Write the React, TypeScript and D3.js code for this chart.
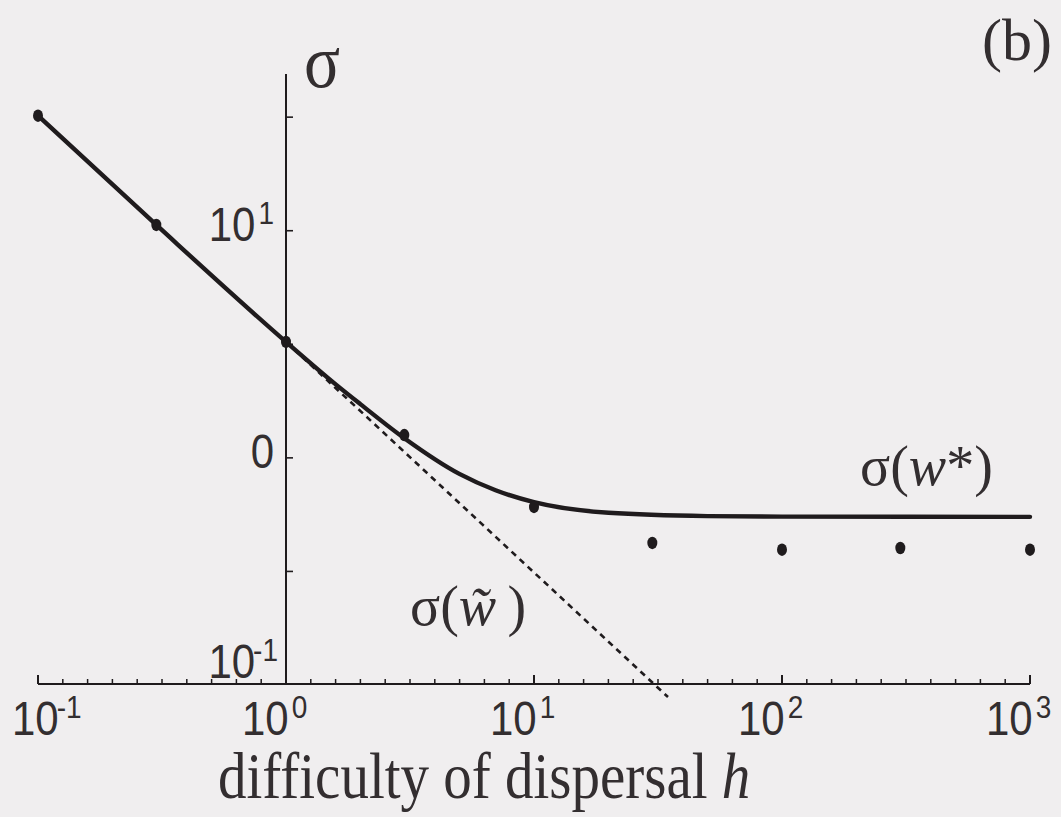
import React from "react";
import * as d3 from "d3";

const W = 1061;
const H = 817;

// Simulated dispersal widths (dots)
const hPoints = [0.1, 0.3, 1, 3, 10, 30, 100, 300, 1000];
const sigmaPoints = [32.1, 10.6, 3.24, 1.26, 0.608, 0.422, 0.394, 0.401, 0.394];

// σ(w*) curve samples
const hCurve = [0.1, 0.3, 1, 1.6, 2, 3, 5, 7, 10, 20, 50, 100, 1000];
const sigmaCurve = [32.1, 10.6, 3.24, 2.09, 1.72, 1.22, 0.85, 0.72, 0.638, 0.573, 0.554, 0.551, 0.55];

// σ(w̃) asymptote (dashed)
const hTilde = [1, 34.7];
const sigmaTilde = [3.24, 0.0885];

// Axis ticks
const xMajorTicks = [0.1, 1, 10, 100, 1000];
const xTickExponents = ["-1", "0", "1", "2", "3"];
const yTicks = [Math.pow(10, -0.5), 1, Math.pow(10, 0.5), 10, Math.pow(10, 1.5)];
const yLabelValues = [10, 1, 0.1];
const yLabelBase = ["10", "0", "10"];
const yLabelExp = ["1", "", "-1"];

const INK = "#1f1b1d";
const TEXT = "#332e30";
const SANS = "'Liberation Sans', Arial, Helvetica, sans-serif";
const SERIF = "'Liberation Serif', 'Times New Roman', serif";
const STRETCH = 1.14;

export default function App() {
  const x = d3.scaleLog().domain([0.1, 1000]).range([38, 1030]);
  const y = d3.scaleLog().domain([0.1, Math.pow(10, 1.69)]).range([685, 74]);

  const axisY = 684;
  const axisX = x(1);

  const minorX: number[] = [];
  for (let k = -10; k <= 30; k++) {
    if (k % 10 !== 0) minorX.push(Math.pow(10, k / 10));
  }

  const curveLine = d3
    .line<number>()
    .x((_, i) => x(hCurve[i]))
    .y((d) => y(d))
    .curve(d3.curveMonotoneX);

  const dashLine = d3
    .line<number>()
    .x((_, i) => x(hTilde[i]))
    .y((d) => y(d));

  const tr = (px: number, py: number, s = STRETCH) => `translate(${px},${py}) scale(1,${s})`;

  return (
    <svg
      width={W}
      height={H}
      viewBox={`0 0 ${W} ${H}`}
      style={{ position: "absolute", left: 0, top: 0, display: "block" }}
    >
      <rect x={0} y={0} width={W} height={H} fill="#f0eeef" />

      {/* x axis */}
      <line x1={x(0.1)} x2={x(1000)} y1={axisY} y2={axisY} stroke={INK} strokeWidth={2} />
      {minorX.map((v, i) => (
        <line key={`mx${i}`} x1={x(v)} x2={x(v)} y1={axisY} y2={axisY - 5} stroke={INK} strokeWidth={1.5} />
      ))}
      {xMajorTicks.map((v, i) => (
        <line key={`Mx${i}`} x1={x(v)} x2={x(v)} y1={axisY} y2={axisY - 9} stroke={INK} strokeWidth={2} />
      ))}
      {xMajorTicks.map((v, i) => (
        <text
          key={`xl${i}`}
          transform={tr(Math.max(12, x(v) - 44), 735)}
          fontFamily={SANS}
          fontSize={42}
          fill={TEXT}
        >
          10
          <tspan fontSize={28} dx={xTickExponents[i] === "-1" ? -2 : 3} dy={-15}>
            {xTickExponents[i]}
          </tspan>
        </text>
      ))}

      {/* y axis */}
      <line x1={axisX} x2={axisX} y1={axisY} y2={y(Math.pow(10, 1.69))} stroke={INK} strokeWidth={2} />
      {yTicks.map((v, i) => (
        <line key={`yt${i}`} x1={axisX} x2={axisX + 7} y1={y(v)} y2={y(v)} stroke={INK} strokeWidth={1.6} />
      ))}
      {yLabelValues.map((v, i) => (
        <text
          key={`yl${i}`}
          transform={tr(yLabelExp[i] === "-1" ? 278 : 274, Math.min(y(v) + 10, axisY - 6))}
          textAnchor="end"
          fontFamily={SANS}
          fontSize={42}
          fill={TEXT}
        >
          {yLabelBase[i]}
          {yLabelExp[i] !== "" && (
            <tspan fontSize={28} dx={yLabelExp[i] === "-1" ? -2 : 3} dy={-15}>
              {yLabelExp[i]}
            </tspan>
          )}
        </text>
      ))}

      {/* σ(w̃) dashed */}
      <path
        d={dashLine(sigmaTilde) || ""}
        fill="none"
        stroke={INK}
        strokeWidth={2.6}
        strokeDasharray="6 5"
      />

      {/* σ(w*) solid curve */}
      <path d={curveLine(sigmaCurve) || ""} fill="none" stroke={INK} strokeWidth={4.4} strokeLinecap="round" />

      {/* simulation dots */}
      {hPoints.map((h, i) => (
        <ellipse key={`p${i}`} cx={x(h)} cy={y(sigmaPoints[i])} rx={5} ry={6.2} fill={INK} />
      ))}

      {/* axis titles and annotations */}
      <text transform={tr(304, 87)} fontFamily={SERIF} fontSize={67} fill={TEXT}>
        σ
      </text>
      <text transform={tr(982, 60, 1)} fontFamily={SERIF} fontSize={60} fill={TEXT}>
        (b)
      </text>
      <text transform={tr(860, 485, 1)} fontFamily={SERIF} fontSize={56} fill={TEXT}>
        σ(<tspan fontStyle="italic">w</tspan>*)
      </text>
      <text transform={tr(410, 625, 1)} fontFamily={SERIF} fontSize={56} fill={TEXT}>
        σ(<tspan fontStyle="italic">w&#x0303;</tspan>&#x2009;)
      </text>
      <text transform={tr(218, 798)} fontFamily={SERIF} fontSize={57} fill={TEXT}>
        difficulty of dispersal <tspan fontStyle="italic">h</tspan>
      </text>
    </svg>
  );
}
